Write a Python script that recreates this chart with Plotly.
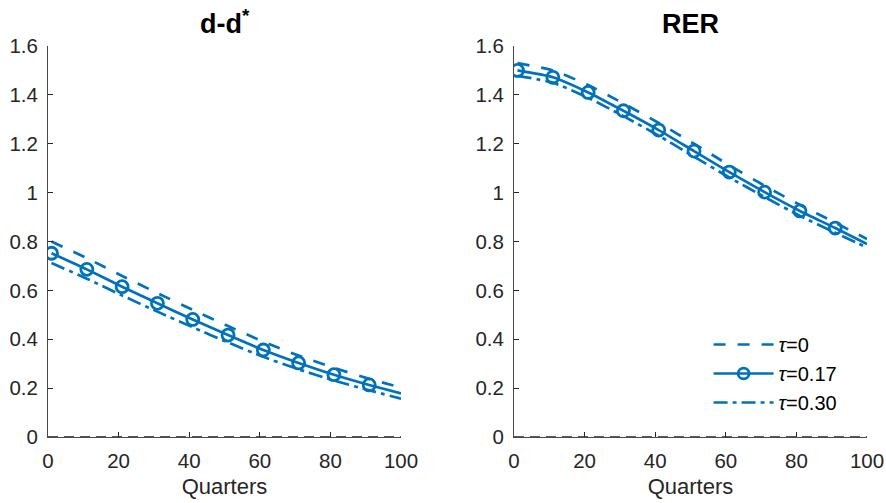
import plotly.graph_objects as go

quarters = [1, 11, 21, 31, 41, 51, 61, 71, 81, 91, 100]

dd_tau0 = [0.800, 0.732, 0.659, 0.589, 0.520, 0.454, 0.390, 0.333, 0.283, 0.238, 0.202]
dd_tau17 = [0.752, 0.686, 0.615, 0.547, 0.481, 0.417, 0.356, 0.303, 0.255, 0.213, 0.178]
dd_tau30 = [0.712, 0.648, 0.579, 0.513, 0.449, 0.387, 0.328, 0.277, 0.231, 0.191, 0.157]

rer_tau0 = [1.530, 1.500, 1.440, 1.365, 1.285, 1.200, 1.112, 1.028, 0.950, 0.877, 0.810]
rer_tau17 = [1.500, 1.472, 1.410, 1.335, 1.256, 1.170, 1.084, 1.002, 0.925, 0.855, 0.790]
rer_tau30 = [1.478, 1.450, 1.388, 1.313, 1.233, 1.147, 1.062, 0.982, 0.905, 0.836, 0.775]

zero_x = [0, 100]
zero_y = [0, 0]

titles = ["d-d<sup>*</sup>", "RER"]
legend_names = ["<i>τ</i>=0", "<i>τ</i>=0.17", "<i>τ</i>=0.30"]
xticks = [0, 20, 40, 60, 80, 100]
yticks = [0, 0.2, 0.4, 0.6, 0.8, 1, 1.2, 1.4, 1.6]
ytick_text = ["0", "0.2", "0.4", "0.6", "0.8", "1", "1.2", "1.4", "1.6"]

BLUE = "#0072BD"
AX = "#262626"
FONT = "Liberation Sans, Arial, Helvetica, sans-serif"

fig = go.Figure()

panels = [(dd_tau0, dd_tau17, dd_tau30), (rer_tau0, rer_tau17, rer_tau30)]
marker_sizes = [12] * (len(quarters) - 1) + [0]

for i, (s0, s17, s30) in enumerate(panels):
    xa = "x" if i == 0 else "x2"
    ya = "y" if i == 0 else "y2"
    show = i == 1
    fig.add_trace(go.Scatter(x=zero_x, y=zero_y, mode="lines", xaxis=xa, yaxis=ya,
                             line=dict(color="#222222", width=1.3, dash="10px,6px"),
                             showlegend=False, hoverinfo="skip"))
    fig.add_trace(go.Scatter(x=quarters, y=s0, mode="lines", xaxis=xa, yaxis=ya,
                             name=legend_names[0], showlegend=show,
                             line=dict(color=BLUE, width=2.7, dash="12px,12px", shape="spline", smoothing=0.6)))
    fig.add_trace(go.Scatter(x=quarters, y=s17, mode="lines+markers", xaxis=xa, yaxis=ya,
                             name=legend_names[1], showlegend=show,
                             line=dict(color=BLUE, width=2.7, shape="spline", smoothing=0.6),
                             marker=dict(symbol="circle-open", size=marker_sizes, color=BLUE, opacity=1,
                                         line=dict(width=2.8, color=BLUE))))
    fig.add_trace(go.Scatter(x=quarters, y=s30, mode="lines", xaxis=xa, yaxis=ya,
                             name=legend_names[2], showlegend=show,
                             line=dict(color=BLUE, width=2.7, dash="14px,5px,4px,5px", shape="spline", smoothing=0.6)))

axis_common = dict(showline=True, linecolor="#4a4a4a", linewidth=1, ticks="inside", ticklen=5,
                   tickcolor=AX, showgrid=False, zeroline=False, mirror=False, automargin=False,
                   ticklabelstandoff=5,
                   tickfont=dict(family=FONT, size=20.5, color=AX))

xtitle = dict(text="Quarters", font=dict(family=FONT, size=22, color=AX), standoff=8)

fig.update_layout(
    width=886, height=503,
    margin=dict(l=0, r=0, t=0, b=0, autoexpand=False),
    paper_bgcolor="white", plot_bgcolor="white",
    font=dict(family=FONT, color=AX),
    xaxis=dict(domain=[48/886, 401/886], range=[0, 100], tickvals=xticks, anchor="y",
               title=xtitle, **axis_common),
    yaxis=dict(domain=[66/503, 457/503], range=[0, 1.6], tickvals=yticks, ticktext=ytick_text,
               anchor="x", **axis_common),
    xaxis2=dict(domain=[514/886, 867/886], range=[0, 100], tickvals=xticks, anchor="y2",
                title=xtitle, **axis_common),
    yaxis2=dict(domain=[66/503, 457/503], range=[0, 1.6], tickvals=yticks, ticktext=ytick_text,
                anchor="x2", **axis_common),
    legend=dict(x=0.951, xanchor="right", y=0.161, yanchor="bottom",
                bgcolor="rgba(255,255,255,0)", font=dict(family=FONT, size=20, color="black"),
                tracegroupgap=0, itemwidth=60),
    showlegend=True,
)

title_x = [(48 + 401) / 2 / 886, (514 + 867) / 2 / 886]
for t, xp in zip(titles, title_x):
    fig.add_annotation(text="<b>" + t + "</b>", x=xp, y=462/503, xref="paper", yref="paper",
                       xanchor="center", yanchor="bottom", showarrow=False,
                       font=dict(family=FONT, size=27, color="black"))

fig.write_html("out.html")
